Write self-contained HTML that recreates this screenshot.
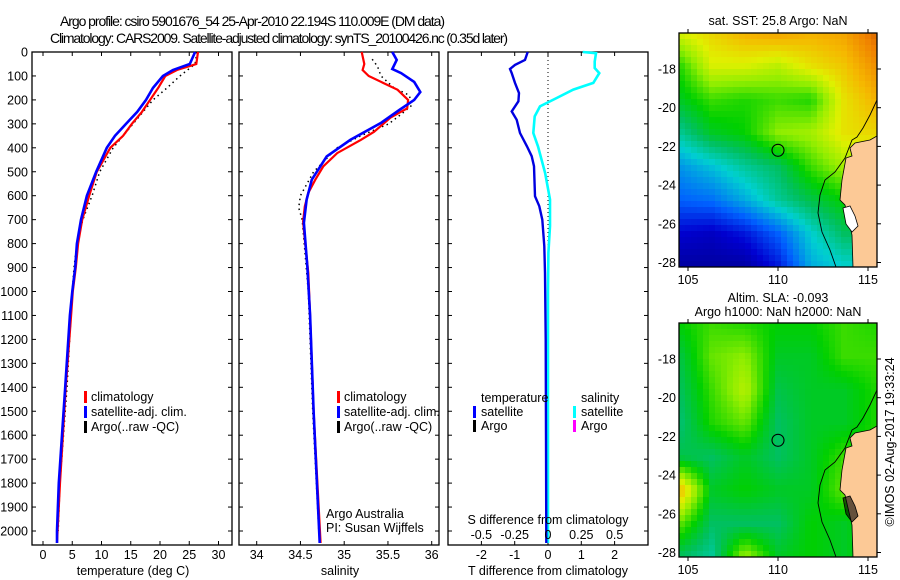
<!DOCTYPE html>
<html><head><meta charset="utf-8"><style>
body{margin:0;background:#fff}
svg{display:block;font-family:"Liberation Sans",sans-serif;font-size:12.5px}
</style></head><body>
<svg id="s" width="900" height="580" viewBox="0 0 900 580">
<rect width="900" height="580" fill="#fff"/>
<text x="60" y="26" textLength="385" font-size="14">Argo profile: csiro 5901676_54 25-Apr-2010 22.194S 110.009E (DM data)</text>
<text x="50" y="43" textLength="458" font-size="14">Climatology: CARS2009. Satellite-adjusted climatology: synTS_20100426.nc (0.35d later)</text>
<g id="g"></g>
</svg>
<script>
// depth arrays (m) and values
const depthT=[0,50,75,100,150,200,250,300,350,400,500,600,700,800,900,1000,1100,1400,1800,2000,2050];
const tempClim=[26.5,26.2,22.9,20.9,19.7,18.3,16.9,15.2,13.7,11.5,9.2,7.9,6.7,6.0,5.6,5.1,4.8,3.9,2.9,2.5,2.4];
const tempSat=[26.0,25.1,22.2,20.5,18.8,17.6,16.1,14.2,12.3,10.9,9.1,7.5,6.5,5.8,5.5,5.0,4.6,3.8,2.7,2.4,2.4];
const depthTA=[0,50,100,150,200,300,400,500,600,700,800,900,1000,1400,1800,2000];
const tempArgo=[26.3,26.0,23.4,21.2,18.8,15.4,12.0,9.7,8.4,6.8,5.8,5.3,5.0,4.1,2.9,2.6];
const depthS=[0,50,75,100,130,158,200,235,274,333,367,422,478,533,588,645,708,783,922,1100,1500,2050];
const salClim=[35.20,35.23,35.21,35.28,35.45,35.61,35.73,35.72,35.53,35.34,35.19,34.92,34.76,34.67,34.59,34.55,34.53,34.55,34.59,34.61,34.65,34.73];
const depthSB=[0,33,71,88,125,167,200,242,296,367,436,533,617,713,900,1100,1500,2050];
const salSat=[35.55,35.60,35.55,35.65,35.80,35.87,35.80,35.63,35.42,35.07,34.80,34.63,34.57,34.54,34.58,34.61,34.65,34.72];
const depthSA=[30,60,100,150,180,220,260,300,350,400,500,600,650,700,1000,1500,2000];
const salArgo=[35.32,35.38,35.42,35.57,35.74,35.78,35.65,35.51,35.19,34.92,34.65,34.50,34.48,34.52,34.59,34.64,34.71];
const depthD=[0,33,54,71,88,129,171,206,248,283,338,394,435,477,602,644,700,811,922,1200,1600,2050];
const dT=[-0.61,-0.69,-0.99,-1.14,-1.09,-0.99,-0.87,-0.89,-1.09,-0.94,-0.84,-0.63,-0.49,-0.42,-0.39,-0.26,-0.17,-0.11,-0.09,-0.07,-0.06,-0.05];
const depthDS=[0,5,40,67,88,129,157,192,227,269,338,394,505,616,727,838,1000,2050];
const dS=[0.26,0.36,0.35,0.35,0.385,0.34,0.19,0.065,-0.06,-0.10,-0.11,-0.075,-0.022,0.015,0.015,0.003,0,0];
const tTicks=[0,5,10,15,20,25,30];
const sTicks=[34,34.5,35,35.5,36];
const dTTicks=[-2,-1,0,1,2];
const dSTicks=[-0.5,-0.25,0,0.25,0.5];
const sSTLabels=["-0.5","-0.25","0","0.25","0.5"];
const lonTicks=[105,110,115];
const latTicks=[-18,-20,-22,-24,-26,-28];
const sstGrid=[
[0.75,0.80,0.85,0.87,0.85,0.87,0.95],
[0.60,0.75,0.75,0.72,0.78,0.82,0.90],
[0.55,0.62,0.60,0.62,0.60,0.78,0.85],
[0.45,0.55,0.58,0.68,0.70,0.78,0.80],
[0.32,0.38,0.45,0.50,0.62,0.70,0.70],
[0.25,0.27,0.35,0.45,0.52,0.58,0.58],
[0.12,0.10,0.15,0.25,0.40,0.50,0.50],
[0.05,0.05,0.05,0.15,0.35,0.40,0.40]];
const slaGrid=[
[0.58,0.62,0.60,0.58,0.58,0.62,0.60],
[0.52,0.65,0.68,0.55,0.55,0.62,0.62],
[0.50,0.62,0.72,0.52,0.55,0.55,0.60],
[0.48,0.60,0.65,0.50,0.55,0.55,0.60],
[0.52,0.50,0.55,0.50,0.55,0.62,0.60],
[0.85,0.55,0.58,0.55,0.55,0.65,0.60],
[0.65,0.50,0.50,0.50,0.58,0.55,0.60],
[0.50,0.45,0.70,0.55,0.58,0.55,0.60]];

const NS='http://www.w3.org/2000/svg';
const G=document.getElementById('g');
function mk(tag,attrs,parent){const e=document.createElementNS(NS,tag);for(const k in attrs)e.setAttribute(k,attrs[k]);(parent||G).appendChild(e);return e;}
const Y=d=>52+0.2395*d;
const xT=t=>43+5.85*t;
const xS=s=>256.7+87.5*(s-34);
const xDT=t=>548+33.3*t;
const xDS=s=>548+133.3*s;
const TOP=52,BOT=545;

function frame(x0,x1,name,leftLabels){
  const r=mk('rect',{x:x0,y:TOP,width:x1-x0,height:BOT-TOP,fill:'none',stroke:'#000','stroke-width':1.3});
  
  
  for(let d=0;d<=2000;d+=100){
    const l=mk('line',{x1:x0,x2:x0+4,y1:Y(d),y2:Y(d),stroke:'#000'});
    
    
    const l2=mk('line',{x1:x1-4,x2:x1,y1:Y(d),y2:Y(d),stroke:'#000'});
    
    
    if(leftLabels){
      const t=mk('text',{x:x0-4,y:Y(d)+4.5,'text-anchor':'end'});t.textContent=d;
      
      
    }
  }
}
function xticks(vals,fx,labels,ly){
  vals.forEach((v,i)=>{
    const x=fx(v);
    const a=mk('line',{x1:x,x2:x,y1:TOP,y2:TOP+4,stroke:'#000'});
    
    
    const b=mk('line',{x1:x,x2:x,y1:BOT-4,y2:BOT,stroke:'#000'});
    
    
    if(labels){const t=mk('text',{x:x,y:ly,'text-anchor':'middle'});t.textContent=labels[i];
      
      }
  });
}
function line(xs,ds,fx,color,w,name,dash){
  const pts=xs.map((v,i)=>fx(v).toFixed(1)+','+Y(ds[i]).toFixed(1)).join(' ');
  const a={points:pts,fill:'none',stroke:color,'stroke-width':w};
  if(dash)a['stroke-dasharray']=dash;
  const p=mk('polyline',a);
  
  
}
function text(x,y,s,name,anchor){const t=mk('text',{x:x,y:y,'text-anchor':anchor||'start'});t.textContent=s;
  
  return t;}
function legBar(x,y,c,name){const r=mk('rect',{x:x,y:y-10,width:3,height:12,fill:c});
  
  }

// panel 1
frame(32,232,'temperature-panel',true);
xticks(tTicks,xT,tTicks,559);
line(tempArgo,depthTA,xT,'#000',1.5,'argo-temperature-line','1.5 3.5');
line(tempClim,depthT,xT,'#ff0000',2.2,'climatology-temperature-line');
line(tempSat,depthT,xT,'#0000ff',2.6,'satellite-temperature-line');
text(133,575,'temperature (deg C)','temperature-axis-title','middle');
legBar(84,401,'#f00','legend-climatology-swatch');text(91,401,'climatology','legend-climatology');
legBar(84,416,'#00f','legend-satellite-swatch');text(91,416,'satellite-adj. clim.','legend-satellite');
legBar(84,431,'#000','legend-argo-swatch');text(91,431,'Argo(..raw -QC)','legend-argo');

// panel 2
frame(239,439,'salinity-panel',false);
xticks(sTicks,xS,sTicks,559);
line(salArgo,depthSA,xS,'#000',1.5,'argo-salinity-line','1.5 3.5');
line(salClim,depthS,xS,'#ff0000',2.2,'climatology-salinity-line');
line(salSat,depthSB,xS,'#0000ff',2.6,'satellite-salinity-line');
text(340,575,'salinity','salinity-axis-title','middle');
legBar(337,401,'#f00','legend-climatology-swatch-2');text(344,401,'climatology','legend-climatology-2');
legBar(337,416,'#00f','legend-satellite-swatch-2');text(344,416,'satellite-adj. clim.','legend-satellite-2');
legBar(337,431,'#000','legend-argo-swatch-2');text(344,431,'Argo(..raw -QC)','legend-argo-2');
text(326,518,'Argo Australia','credit-argo-australia');
text(326,532,'PI: Susan Wijffels','credit-pi');

// panel 3
frame(448,648,'difference-panel',false);
xticks(dTTicks,xDT,dTTicks,559);
const zl=mk('line',{x1:548,x2:548,y1:TOP,y2:Y(850),stroke:'#000','stroke-dasharray':'1 3'});


line(dS,depthDS,xDS,'#00ffff',2.6,'salinity-difference-line');
line(dT,depthD,xDT,'#0000e0',2.4,'temperature-difference-line');
dSTicks.forEach((v,i)=>{text(xDS(v),539,sSTLabels[i],'s-tick-label','middle');});
text(548,524,'S difference from climatology','s-diff-axis-title','middle');
text(548,575,'T difference from climatology','t-diff-axis-title','middle');
text(481,402,'temperature','legend-temperature-header');
legBar(473,416,'#00f','legend-t-sat-swatch');text(481,416,'satellite','legend-t-satellite');
legBar(473,430,'#000','legend-t-argo-swatch');text(481,430,'Argo','legend-t-argo');
text(581,402,'salinity','legend-salinity-header');
legBar(573,416,'#0ff','legend-s-sat-swatch');text(581,416,'satellite','legend-s-satellite');
legBar(573,430,'#f0f','legend-s-argo-swatch');text(581,430,'Argo','legend-s-argo');

// maps
const cmapStops=[[0,[0,0,127]],[0.12,[0,0,208]],[0.25,[0,96,255]],[0.4,[0,208,208]],[0.5,[0,192,96]],[0.58,[0,208,0]],[0.68,[144,238,0]],[0.76,[224,240,0]],[0.84,[245,184,0]],[0.92,[240,128,0]],[1,[176,64,0]]];
function cmap(v){v=Math.max(0,Math.min(1,v));for(let i=1;i<cmapStops.length;i++){if(v<=cmapStops[i][0]){const a=cmapStops[i-1],b=cmapStops[i];const f=(v-a[0])/(b[0]-a[0]);const c=a[1].map((x,k)=>Math.round(x+(b[1][k]-x)*f));return 'rgb('+c.join(',')+')';}}return 'rgb(176,64,0)';}
function samp(grid,fx,fy){const R=grid.length-1,C=grid[0].length-1;const x=Math.max(0,Math.min(C,fx*C)),y=Math.max(0,Math.min(R,fy*R));const i=Math.min(R-1,Math.floor(y)),j=Math.min(C-1,Math.floor(x));const u=x-j,w=y-i;return grid[i][j]*(1-u)*(1-w)+grid[i][j+1]*u*(1-w)+grid[i+1][j]*(1-u)*w+grid[i+1][j+1]*u*w;}
const MX0=679,MX1=877,MH=234;
const lonX=l=>688+18*(l-105);
const latY=(l,off)=>off+69+19.35*(-18-l);
function drawMap(grid,off,name){
  const g=mk('g',{});
  
  
  const cs=6;
  for(let y=off;y<off+MH;y+=cs){for(let x=MX0;x<MX1;x+=cs){
    const r=mk('rect',{x:x,y:y,width:cs+0.5,height:Math.min(cs,off+MH-y)+0.5,fill:cmap(samp(grid,(x+3-MX0)/(MX1-MX0),(y+3-off)/MH))},g);
  }}
  const d=off-33;
  const land=mk('polygon',{points:[[877,136],[870,140],[855,143],[850,148],[852,156],[846,158],[842,180],[840,200],[845,205],[852,235],[853,267],[877,267]].map(p=>p[0]+','+(p[1]+d)).join(' '),fill:'#fcc996',stroke:'#000','stroke-width':0.8});
  
  
  const isl=mk('polygon',{points:[[843,208],[850,206],[855,216],[858,226],[852,232],[846,224]].map(p=>p[0]+','+(p[1]+d)).join(' '),fill:off<100?'#fff':'#000','fill-opacity':off<100?1:0.6,stroke:'#000','stroke-width':0.8});
  
  
  const cl=mk('polyline',{points:[[877,100],[870,115],[863,128],[857,137],[852,140],[845,158],[835,172],[825,180],[820,195],[818,213],[822,232],[830,250],[836,267]].map(p=>p[0]+','+(p[1]+d)).join(' '),fill:'none',stroke:'#000','stroke-width':0.9});
  
  
  const c=mk('circle',{cx:lonX(110),cy:latY(-22.2,d),r:6,fill:'none',stroke:'#000','stroke-width':1.1});
  
  
  const f=mk('rect',{x:MX0,y:off,width:MX1-MX0,height:MH,fill:'none',stroke:'#000','stroke-width':1.3});
  
  
  lonTicks.forEach(l=>{
    const a=mk('line',{x1:lonX(l),x2:lonX(l),y1:off,y2:off-4,stroke:'#000'});
    
    
    const b=mk('line',{x1:lonX(l),x2:lonX(l),y1:off+MH,y2:off+MH+4,stroke:'#000'});
    
    
    text(lonX(l),off+MH+17,String(l),'lon-tick-label','middle');
  });
  latTicks.forEach(l=>{
    const y=latY(l,d);
    const a=mk('line',{x1:MX1,x2:MX1+4,y1:y,y2:y,stroke:'#000'});
    
    
    text(676,y+4.5,String(l),'lat-tick-label','end');
  });
}
drawMap(sstGrid,33,'sst-map');
drawMap(slaGrid,323,'sla-map');
text(778,25,'sat. SST: 25.8 Argo: NaN','sst-map-title','middle');
text(778,302,'Altim. SLA: -0.093','sla-map-title','middle');
text(778,316,'Argo h1000: NaN h2000: NaN','sla-map-subtitle','middle');
const cr=text(0,0,'©IMOS 02-Aug-2017 19:33:24','imos-timestamp','middle');
cr.setAttribute('transform','translate(894,442) rotate(-90)');
</script>
</body></html>
